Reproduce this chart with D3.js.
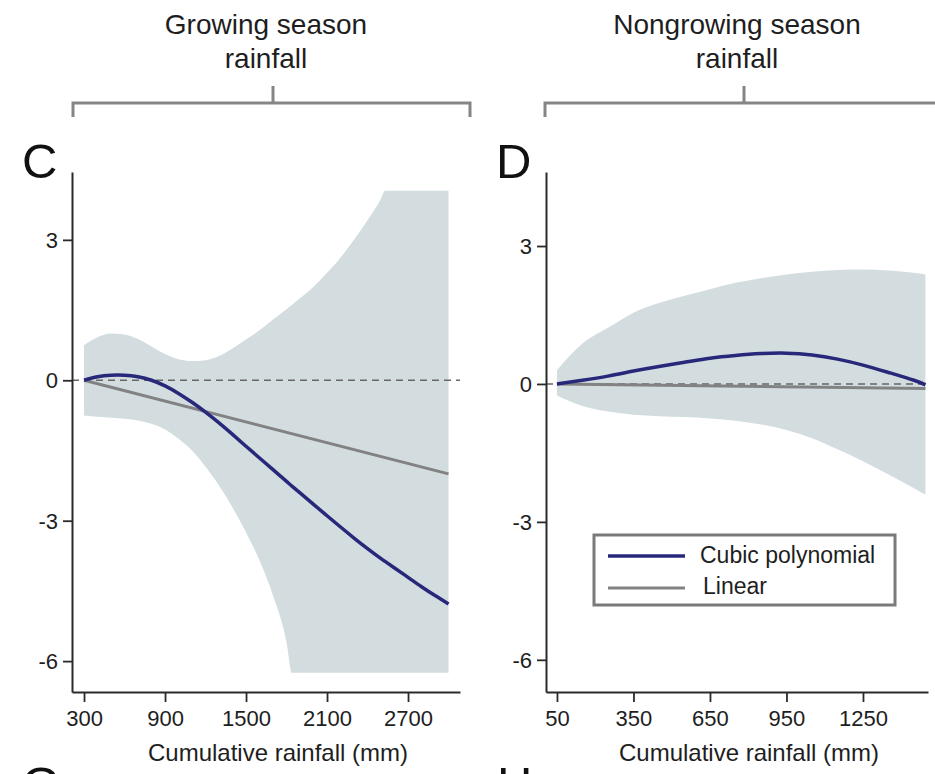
<!DOCTYPE html>
<html>
<head>
<meta charset="utf-8">
<script src="https://cdn.jsdelivr.net/npm/d3@7"></script>
<style>
  body { margin: 0; background: #fff; }
  svg { display: block; font-family: "Liberation Sans", Arial, sans-serif; }
</style>
</head>
<body>
<svg id="chart" width="935" height="774"></svg>
<script>
// Panel C: growing season rainfall
const gsRain = [300, 400, 500, 600, 700, 800, 900, 1000, 1100, 1200, 1300, 1400, 1500, 1600, 1700, 1800, 1840,
  1900, 2000, 2100, 2200, 2300, 2400, 2500, 2530, 2600, 2700, 2800, 2900, 3000];
const gsCubic = [0, 0.075, 0.11, 0.11, 0.075, 0, -0.12, -0.28, -0.47, -0.68, -0.91, -1.155, -1.41, -1.66, -1.91, -2.16, -2.26,
  -2.405, -2.65, -2.895, -3.135, -3.37, -3.595, -3.81, -3.87, -4.01, -4.21, -4.41, -4.6, -4.78];
const gsUpper = [0.75, 0.92, 1.0, 0.98, 0.88, 0.72, 0.56, 0.45, 0.41, 0.43, 0.52, 0.68, 0.87, 1.07, 1.3, 1.52, 1.61,
  1.75, 2.0, 2.3, 2.62, 3.0, 3.42, 3.88, 4.05, 4.05, 4.05, 4.05, 4.05, 4.05];
const gsLower = [-0.75, -0.78, -0.8, -0.82, -0.86, -0.93, -1.05, -1.25, -1.5, -1.85, -2.25, -2.72, -3.25, -3.85, -4.6, -5.6, -6.25,
  -6.25, -6.25, -6.25, -6.25, -6.25, -6.25, -6.25, -6.25, -6.25, -6.25, -6.25, -6.25, -6.25];
const gsLinX = [300, 3000];
const gsLinY = [0, -2.0];
const gsTicks = [300, 900, 1500, 2100, 2700];

// Panel D: nongrowing season rainfall
const ngRain = [50, 150, 250, 350, 450, 550, 650, 750, 850, 950, 1050, 1150, 1250, 1350, 1450, 1495];
const ngCubic = [0, 0.08, 0.17, 0.28, 0.38, 0.47, 0.56, 0.62, 0.66, 0.67, 0.63, 0.54, 0.41, 0.25, 0.08, -0.02];
const ngUpper = [0.3, 0.88, 1.22, 1.55, 1.76, 1.92, 2.06, 2.2, 2.3, 2.38, 2.44, 2.48, 2.49, 2.47, 2.42, 2.38];
const ngLower = [-0.25, -0.48, -0.6, -0.67, -0.7, -0.72, -0.75, -0.8, -0.88, -1.0, -1.18, -1.42, -1.68, -1.97, -2.27, -2.41];
const ngLinX = [50, 1495];
const ngLinY = [0, -0.1];
const ngTicks = [50, 350, 650, 950, 1250];

const yTicks = [-6, -3, 0, 3];
const seriesNames = ["Cubic polynomial", "Linear"];

const cubicColor = "#27287a",
  linearColor = "#828282",
  bandColor = "#d3dde0",
  axisColor = "#2a2a2a";

const svg = d3.select("#chart");

const panels = [
  {
    letter: "C", header: ["Growing season", "rainfall"],
    rain: gsRain, cubic: gsCubic, upper: gsUpper, lower: gsLower,
    linX: gsLinX, linY: gsLinY, ticks: gsTicks,
    x: d3.scaleLinear().domain([211, 3085]).range([72, 460]),
    y: d3.scaleLinear().domain([-6.66, 4.45]).range([692, 172]),
    headerX: 266, bracket: [73, 470], bracketMid: 273
  },
  {
    letter: "D", header: ["Nongrowing season", "rainfall"],
    rain: ngRain, cubic: ngCubic, upper: ngUpper, lower: ngLower,
    linX: ngLinX, linY: ngLinY, ticks: ngTicks,
    x: d3.scaleLinear().domain([7, 1505]).range([546, 928]),
    y: d3.scaleLinear().domain([-6.7, 4.61]).range([692, 172]),
    headerX: 737, bracket: [545, 944], bracketMid: 744
  }
];

panels.forEach(p => {
  const g = svg.append("g");
  const x = p.x, y = p.y;

  // header text + bracket
  p.header.forEach((t, i) => {
    g.append("text")
      .attr("x", p.headerX)
      .attr("y", 34 + i * 34)
      .attr("text-anchor", "middle")
      .attr("font-size", 28)
      .attr("fill", "#1e1e1e")
      .text(t);
  });
  const bracket = d3.path();
  bracket.moveTo(p.bracket[0], 117);
  bracket.lineTo(p.bracket[0], 103);
  bracket.lineTo(p.bracket[1], 103);
  bracket.lineTo(p.bracket[1], 117);
  bracket.moveTo(p.bracketMid, 103);
  bracket.lineTo(p.bracketMid, 86);
  g.append("path")
    .attr("d", bracket.toString())
    .attr("fill", "none")
    .attr("stroke", "#858585")
    .attr("stroke-width", 3);

  // panel letter
  g.append("text")
    .attr("x", x.range()[0] - 50)
    .attr("y", 178)
    .attr("font-size", 49)
    .attr("fill", "#111")
    .text(p.letter);

  // confidence band
  const area = d3.area()
    .x((d, i) => x(p.rain[i]))
    .y0((d, i) => y(p.lower[i]))
    .y1((d, i) => y(p.upper[i]))
    .curve(d3.curveMonotoneX);
  g.append("path")
    .attr("d", area(p.rain))
    .attr("fill", bandColor);

  // zero reference
  g.append("line")
    .attr("x1", x.range()[0]).attr("x2", x.range()[1])
    .attr("y1", y(0)).attr("y2", y(0))
    .attr("stroke", "#666")
    .attr("stroke-width", 1.5)
    .attr("stroke-dasharray", "7,5");

  // linear fit
  const line = d3.line();
  g.append("path")
    .attr("d", line(p.linX.map((v, i) => [x(v), y(p.linY[i])])))
    .attr("fill", "none")
    .attr("stroke", linearColor)
    .attr("stroke-width", 3);

  // cubic fit
  g.append("path")
    .attr("d", line.curve(d3.curveNatural)(p.rain.map((v, i) => [x(v), y(p.cubic[i])])))
    .attr("fill", "none")
    .attr("stroke", cubicColor)
    .attr("stroke-width", 3.5);

  // axes
  const yAxis = g.append("g")
    .attr("transform", `translate(${x.range()[0]},0)`)
    .call(d3.axisLeft(y).tickValues(yTicks).tickFormat(d => String(d))
      .tickSize(9).tickSizeOuter(0).tickPadding(5));
  const xAxis = g.append("g")
    .attr("transform", `translate(0,${y.range()[0]})`)
    .call(d3.axisBottom(x).tickValues(p.ticks).tickFormat(d => String(d))
      .tickSize(10).tickSizeOuter(0).tickPadding(8));
  [xAxis, yAxis].forEach(a => {
    a.selectAll("path.domain").attr("stroke", axisColor).attr("stroke-width", 2);
    a.selectAll(".tick line").attr("stroke", axisColor).attr("stroke-width", 1.8);
    a.selectAll(".tick text")
      .attr("font-size", 22)
      .attr("fill", "#1e1e1e")
      .attr("font-family", "'Liberation Sans', Arial, sans-serif");
  });
  yAxis.selectAll(".tick text").attr("dy", "0.35em");

  g.append("text")
    .attr("x", (x.range()[0] + x.range()[1]) / 2 + 12)
    .attr("y", 761)
    .attr("text-anchor", "middle")
    .attr("font-size", 24)
    .attr("fill", "#1e1e1e")
    .text("Cumulative rainfall (mm)");
});

// legend (panel D)
const legend = svg.append("g");
legend.append("rect")
  .attr("x", 594).attr("y", 535)
  .attr("width", 301).attr("height", 70)
  .attr("fill", "#fff")
  .attr("stroke", "#7a7a7a")
  .attr("stroke-width", 3);
seriesNames.forEach((name, i) => {
  legend.append("line")
    .attr("x1", 608).attr("x2", 685)
    .attr("y1", 556 + i * 32).attr("y2", 556 + i * 32)
    .attr("stroke", i === 0 ? cubicColor : linearColor)
    .attr("stroke-width", i === 0 ? 3.5 : 3);
  legend.append("text")
    .attr("x", 700 + i * 3)
    .attr("y", 563 + i * 31)
    .attr("font-size", 23)
    .attr("fill", "#1e1e1e")
    .text(name);
});

// letters of the next row, cut off at the bottom edge as in the source figure
[["G", 22], ["H", 497]].forEach(([t, px]) => {
  svg.append("text")
    .attr("x", px).attr("y", 801)
    .attr("font-size", 49)
    .attr("fill", "#111")
    .text(t);
});
</script>
</body>
</html>
